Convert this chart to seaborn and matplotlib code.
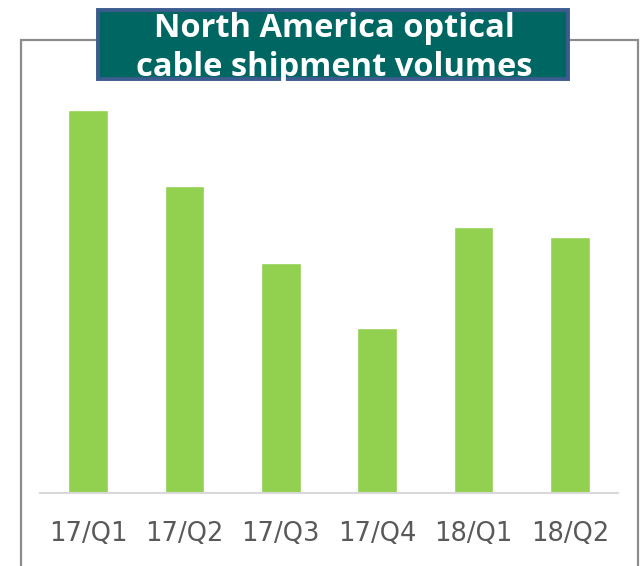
import matplotlib
matplotlib.use("Agg")
import matplotlib.pyplot as plt
from matplotlib.patches import Rectangle
import seaborn as sns
import pandas as pd

categories = ["17/Q1", "17/Q2", "17/Q3", "17/Q4", "18/Q1", "18/Q2"]
volumes = [383, 307, 230, 165, 266, 256]
title_lines = ["North America optical", "cable shipment volumes"]

sns.set_style("white")
W, H = 640, 566
fig = plt.figure(figsize=(W / 100, H / 100), dpi=100)

def fx(px):
    return px / W

def fy(py):
    return 1 - py / H

# outer gray frame (extends below the image)
fig.patches.append(Rectangle((fx(21), fy(600)), fx(638) - fx(21), fy(40) - fy(600),
                             transform=fig.transFigure, fill=False,
                             edgecolor="#8C8C8C", linewidth=1.6, zorder=0))

ax = fig.add_axes([fx(40), fy(493), fx(618) - fx(40), fy(60) - fy(493)])
df = pd.DataFrame({"cat": categories, "val": volumes})
sns.barplot(data=df, x="cat", y="val", color="#92D050", width=0.41,
            saturation=1, ax=ax)
ax.set_xlim(-0.5, len(categories) - 0.5)
ax.set_ylim(0, 433)
ax.set_xlabel("")
ax.set_ylabel("")
ax.set_yticks([])
for s in ["top", "right", "left"]:
    ax.spines[s].set_visible(False)
ax.spines["bottom"].set_color("#D9D9D9")
ax.spines["bottom"].set_linewidth(1.5)
ax.tick_params(axis="x", length=0, pad=20, labelsize=18.5, labelcolor="#595959")
ax.patch.set_alpha(0)

# title box
fig.patches.append(Rectangle((fx(98), fy(79)), fx(568) - fx(98), fy(10) - fy(79),
                             transform=fig.transFigure, facecolor="#006661",
                             edgecolor="#3B5C8E", linewidth=2.8, zorder=5))
fig.text(fx(334), fy(37), title_lines[0], ha="center", va="baseline", color="white",
         fontsize=23.5, fontweight="bold", family="Open Sans", zorder=6)
fig.text(fx(334), fy(76.5), title_lines[1], ha="center", va="baseline", color="white",
         fontsize=23.5, fontweight="bold", family="Open Sans", zorder=6)

fig.savefig("out.png", dpi=100)
